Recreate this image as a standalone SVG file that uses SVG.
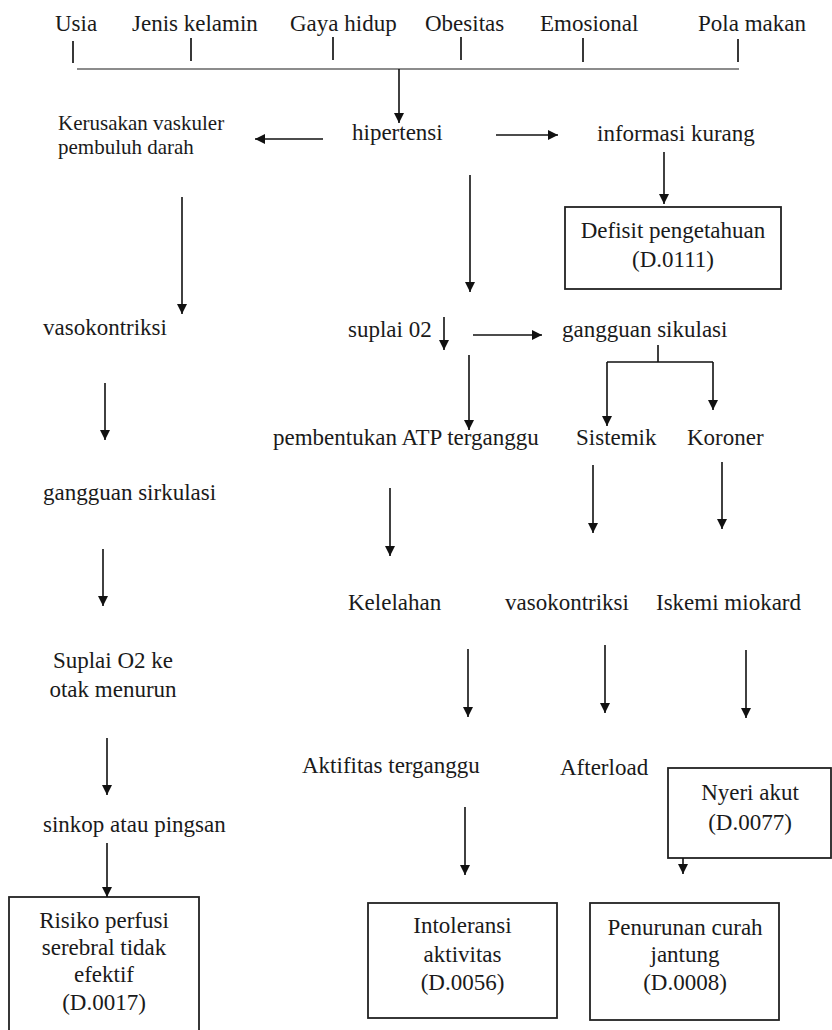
<svg xmlns="http://www.w3.org/2000/svg" width="832" height="1030" viewBox="0 0 832 1030">
<style>
text{font-family:"Liberation Serif","Times New Roman",serif;font-size:23px;fill:#1a1a1a}
.m{text-anchor:middle}
.s{font-size:21px}
.c{stroke:#111;stroke-width:1.6;fill:none}
.a{stroke:#111;stroke-width:1.6;fill:none;marker-end:url(#ah)}
.t{stroke:#222;stroke-width:1.8}
.b{fill:#fff;stroke:#222;stroke-width:1.8}
</style>
<defs>
<marker id="ah" viewBox="0 0 10 10" refX="10" refY="5" markerWidth="10" markerHeight="10" markerUnits="userSpaceOnUse" orient="auto">
<path d="M0,0 L10,5 L0,10 z" fill="#111"/>
</marker>
</defs>
<rect width="832" height="1030" fill="#fff"/>
<g id="factors">
<text x="55" y="31">Usia</text>
<text x="132" y="31">Jenis kelamin</text>
<text x="290" y="31">Gaya hidup</text>
<text x="425" y="31">Obesitas</text>
<text x="540" y="31">Emosional</text>
<text x="698" y="31">Pola makan</text>
<line class="t" x1="73" y1="41" x2="73" y2="63"/>
<line class="t" x1="191" y1="38" x2="191" y2="61"/>
<line class="t" x1="333" y1="37" x2="333" y2="60"/>
<line class="t" x1="461" y1="37" x2="461" y2="60"/>
<line class="t" x1="583" y1="38" x2="583" y2="62"/>
<line class="t" x1="738" y1="39" x2="738" y2="62"/>
<line x1="77" y1="69" x2="739" y2="69" stroke="#666" stroke-width="1.4"/>
</g>
<g id="n-hipertensi"><text x="352" y="140">hipertensi</text></g>
<g id="n-kerusakan"><text class="s" x="58" y="130">Kerusakan vaskuler</text><text class="s" x="58" y="154">pembuluh darah</text></g>
<g id="n-informasi"><text x="597" y="141">informasi kurang</text></g>
<g id="n-defisit"><rect class="b" x="565" y="207" width="216" height="82"/><text class="m" x="673" y="238">Defisit pengetahuan</text><text class="m" x="673" y="267">(D.0111)</text></g>
<g id="n-vaso1"><text x="43" y="335">vasokontriksi</text></g>
<g id="n-suplai"><text x="348" y="337">suplai 02</text></g>
<g id="n-gangguan1"><text x="562" y="337">gangguan sikulasi</text></g>
<g id="n-atp"><text x="273" y="445">pembentukan ATP terganggu</text></g>
<g id="n-sistemik"><text x="576" y="445">Sistemik</text></g>
<g id="n-koroner"><text x="687" y="445">Koroner</text></g>
<g id="n-gangguan2"><text x="43" y="500">gangguan sirkulasi</text></g>
<g id="n-kelelahan"><text x="348" y="610">Kelelahan</text></g>
<g id="n-vaso2"><text x="505" y="610">vasokontriksi</text></g>
<g id="n-iskemi"><text x="656" y="610">Iskemi miokard</text></g>
<g id="n-suplaio2"><text class="m" x="113" y="668">Suplai O2 ke</text><text class="m" x="113" y="697">otak menurun</text></g>
<g id="n-aktifitas"><text x="302" y="773">Aktifitas terganggu</text></g>
<g id="n-afterload"><text x="560" y="775">Afterload</text></g>
<g id="n-nyeri"><rect class="b" x="668" y="768" width="163" height="90"/><text class="m" x="750" y="800">Nyeri akut</text><text class="m" x="750" y="830">(D.0077)</text></g>
<g id="n-sinkop"><text x="43" y="832">sinkop atau pingsan</text></g>
<g id="n-risiko"><rect class="b" x="9" y="897" width="190" height="150"/><text class="m" x="104" y="928">Risiko perfusi</text><text class="m" x="104" y="955">serebral tidak</text><text class="m" x="104" y="982">efektif</text><text class="m" x="104" y="1010">(D.0017)</text></g>
<g id="n-intoleransi"><rect class="b" x="368" y="903" width="189" height="115"/><text class="m" x="462.5" y="933">Intoleransi</text><text class="m" x="462.5" y="962">aktivitas</text><text class="m" x="462.5" y="990">(D.0056)</text></g>
<g id="n-penurunan"><rect class="b" x="590" y="903" width="189" height="117"/><text class="m" x="685" y="935">Penurunan curah</text><text class="m" x="685" y="962">jantung</text><text class="m" x="685" y="990">(D.0008)</text></g>
<g id="connectors">
<line class="a" x1="399" y1="69" x2="399" y2="123"/>
<line class="a" x1="323" y1="139" x2="255" y2="139"/>
<line class="a" x1="496" y1="135" x2="558" y2="135"/>
<line class="a" x1="664" y1="152" x2="664" y2="204"/>
<line class="a" x1="470" y1="175" x2="470" y2="292"/>
<line class="a" x1="182" y1="197" x2="182" y2="314"/>
<line class="a" x1="444" y1="317" x2="444" y2="350"/>
<line class="a" x1="473" y1="335" x2="542" y2="335"/>
<path class="c" d="M658,345 V362 M607,362 H713"/>
<line class="a" x1="607" y1="362" x2="607" y2="426"/>
<line class="a" x1="713" y1="362" x2="713" y2="410"/>
<line class="a" x1="469" y1="355" x2="469" y2="430"/>
<line class="a" x1="105" y1="383" x2="105" y2="440"/>
<line class="a" x1="390" y1="488" x2="390" y2="556"/>
<line class="a" x1="593" y1="465" x2="593" y2="533"/>
<line class="a" x1="722" y1="462" x2="722" y2="529"/>
<line class="a" x1="103" y1="549" x2="103" y2="606"/>
<line class="a" x1="468" y1="649" x2="468" y2="717"/>
<line class="a" x1="605" y1="645" x2="605" y2="713"/>
<line class="a" x1="746" y1="650" x2="746" y2="718"/>
<line class="a" x1="107" y1="738" x2="107" y2="795"/>
<line class="a" x1="465" y1="807" x2="465" y2="875"/>
<line class="a" x1="683" y1="858" x2="683" y2="874"/>
<line class="a" x1="107" y1="843" x2="107" y2="897"/>
</g>
</svg>
